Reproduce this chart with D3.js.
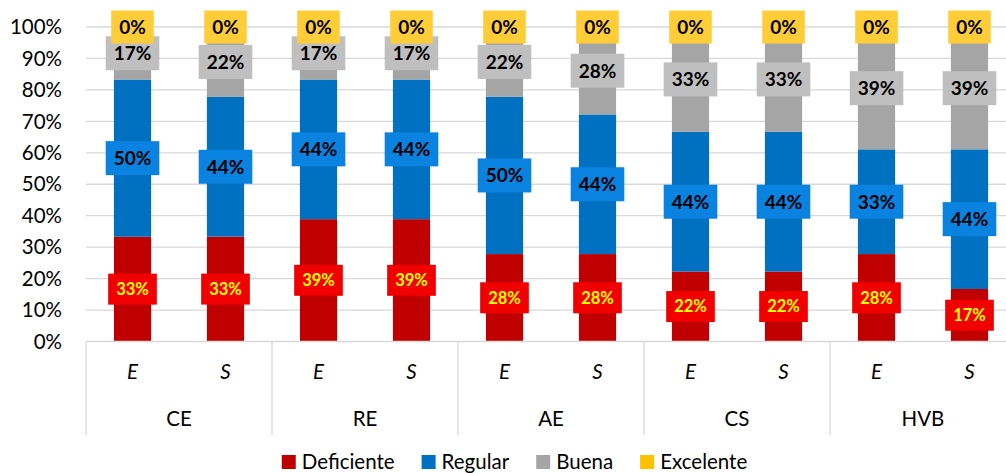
<!DOCTYPE html>
<html><head><meta charset="utf-8">
<script src="https://cdn.jsdelivr.net/npm/d3@7"></script>
<style>body{margin:0;background:#fff}svg{display:block;font-family:Lato,"Open Sans",sans-serif}</style>
</head><body>
<svg id="c" width="1006" height="473"></svg>
<script>
const groups = ["CE","RE","AE","CS","HVB"];
const subs = ["E","S"];
const seriesNames = ["Deficiente","Regular","Buena","Excelente"];
const deficiente = [33.3,33.3,38.9,38.9,27.8,27.8,22.2,22.2,27.8,16.7];
const regular    = [50.0,44.4,44.4,44.4,50.0,44.4,44.4,44.4,33.3,44.4];
const buena      = [16.7,22.2,16.7,16.7,22.2,27.8,33.3,33.3,38.9,38.9];
const excelente  = [0,0,0,0,0,0,0,0,0,0];
const yTicks = [0,10,20,30,40,50,60,70,80,90,100];

const barColors = ["#C00000","#0070C0","#A5A5A5","#FFC000"];
const lblFill   = ["#F00000","#0A82E0","#BFBFBF","#FFCD37"];
const lblText   = ["#FFFF00","#000","#000","#000"];
const lblSize   = [16.5,19,19,19];
const lblH      = [31,34,34,33];

const cols = [];
groups.forEach(g => subs.forEach(s => cols.push({g, s, key: g + "|" + s})));
const rows = cols.map((c,i) => ({key:c.key, Deficiente:deficiente[i], Regular:regular[i], Buena:buena[i], Excelente:excelente[i]}));
const stacked = d3.stack().keys(seriesNames).offset(d3.stackOffsetExpand)(rows);

const svg = d3.select("#c");
const L = 86, R = 1016, T = 27, B = 341.5, axB = 435;
const x = d3.scaleBand().domain(cols.map(c=>c.key)).range([L,R]).paddingInner(0.6).paddingOuter(0.3);
const xg = d3.scaleBand().domain(groups).range([L,R]);
const y = d3.scaleLinear().domain([0,1]).range([B,T]);

// gridlines
svg.append("g").selectAll("line").data(yTicks.filter(t=>t>0)).join("line")
  .attr("x1",L).attr("x2",R).attr("y1",t=>y(t/100)).attr("y2",t=>y(t/100))
  .attr("stroke","#D9D9D9").attr("stroke-width",1.3);

// y tick labels
svg.append("g").selectAll("text").data(yTicks).join("text")
  .attr("x",62).attr("y",t=>y(t/100)).attr("dy","0.35em").attr("text-anchor","end")
  .attr("font-size",20.5).attr("fill","#000").text(t=>t+"%");

// bars
stacked.forEach((s,si)=>{
  svg.append("g").selectAll("rect").data(s).join("rect")
    .attr("x",d=>x(d.data.key)).attr("width",x.bandwidth())
    .attr("y",d=>y(d[1])).attr("height",d=>y(d[0])-y(d[1]))
    .attr("fill",barColors[si]);
});

// category axis
svg.append("line").attr("x1",L).attr("x2",R).attr("y1",B).attr("y2",B).attr("stroke","#D9D9D9").attr("stroke-width",1.3);
const seps = groups.map(g=>xg(g)).concat([R]);
svg.append("g").selectAll("line").data(seps).join("line")
  .attr("x1",d=>d).attr("x2",d=>d).attr("y1",B).attr("y2",axB)
  .attr("stroke","#D9D9D9").attr("stroke-width",1.3);
svg.append("g").selectAll("text").data(cols).join("text")
  .attr("x",d=>x(d.key)+x.bandwidth()/2).attr("y",372).attr("dy","0.35em")
  .attr("text-anchor","middle").attr("font-size",20.5).attr("font-style","italic").attr("fill","#000")
  .text(d=>d.s);
svg.append("g").selectAll("text").data(groups).join("text")
  .attr("x",g=>xg(g)+xg.bandwidth()/2).attr("y",419).attr("dy","0.35em")
  .attr("text-anchor","middle").attr("font-size",20.5).attr("fill","#000").text(g=>g);

// data labels
const raw = [deficiente,regular,buena,excelente];
stacked.forEach((s,si)=>{
  const g = svg.append("g");
  s.forEach((d,i)=>{
    const cx = x(d.data.key)+x.bandwidth()/2;
    const cy = y((d[0]+d[1])/2);
    const lg = g.append("g");
    const r = lg.append("rect").attr("fill",lblFill[si]);
    const t = lg.append("text").attr("x",cx).attr("y",cy).attr("dy","0.36em")
      .attr("text-anchor","middle").attr("font-weight","bold").attr("font-size",lblSize[si])
      .attr("fill",lblText[si]).text(Math.round(raw[si][i])+"%");
    const w = t.node().getComputedTextLength()+16;
    r.attr("x",cx-w/2).attr("y",cy-lblH[si]/2).attr("width",w).attr("height",lblH[si]);
  });
});

// legend
const lg = svg.append("g");
let lx = 0;
seriesNames.forEach((n,i)=>{
  const it = lg.append("g").attr("transform",`translate(${lx},0)`);
  it.append("rect").attr("x",0).attr("y",-7).attr("width",14).attr("height",14).attr("fill",barColors[i]);
  const t = it.append("text").attr("x",20).attr("y",0).attr("dy","0.35em").attr("font-size",20.5).attr("fill","#000").text(n);
  lx += 20 + t.node().getComputedTextLength() + 27;
});
const totalW = lx - 27;
lg.attr("transform",`translate(${514.5-totalW/2},462)`);
</script>
</body></html>
